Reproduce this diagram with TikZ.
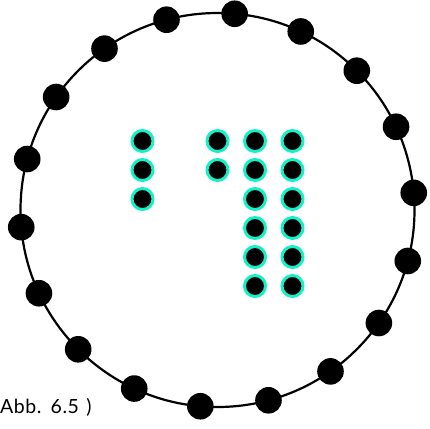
\documentclass[tikz,border=0pt]{standalone}
\usepackage{fontspec}
\setmainfont{Lato}[LetterSpace=3,WordSpace=1.3]
\usetikzlibrary{calc}
\definecolor{ringcyan}{RGB}{20,240,200}
\begin{document}
\begin{tikzpicture}[x=1pt,y=-1pt,
  outerdot/.style={circle,fill=black,inner sep=0pt,minimum size=26.6pt},
  innerdot/.style={circle,fill=black,draw=ringcyan,line width=3pt,inner sep=0pt,minimum size=21pt},
  ringline/.style={draw=black,line width=2.2pt,circle,inner sep=0pt,minimum size=394pt}]
\useasboundingbox (0,0) rectangle (430,428);
\node[ringline] (ring) at (217.5,210) {};
\foreach \k in {0,...,17}{
  \node[outerdot] (o\k) at ($(217.5,210)+({5+20*\k}:197 and -197)$) {};
}
% inner grid
\foreach \r/\y in {1/141,2/170,3/199}{
  \node[innerdot] (a\r) at (142.5,\y) {};
}
\foreach \r/\y in {1/141,2/170}{
  \node[innerdot] (b\r) at (217.5,\y) {};
}
\foreach \r/\y in {1/141,2/170,3/199,4/228,5/257,6/286}{
  \node[innerdot] (c\r) at (255,\y) {};
  \node[innerdot] (d\r) at (292.5,\y) {};
}
\node[anchor=base west,inner sep=0pt,font=\fontsize{19.5}{23}\selectfont] (cap) at (0,413) {Abb. 6.5 )};
\end{tikzpicture}
\end{document}
